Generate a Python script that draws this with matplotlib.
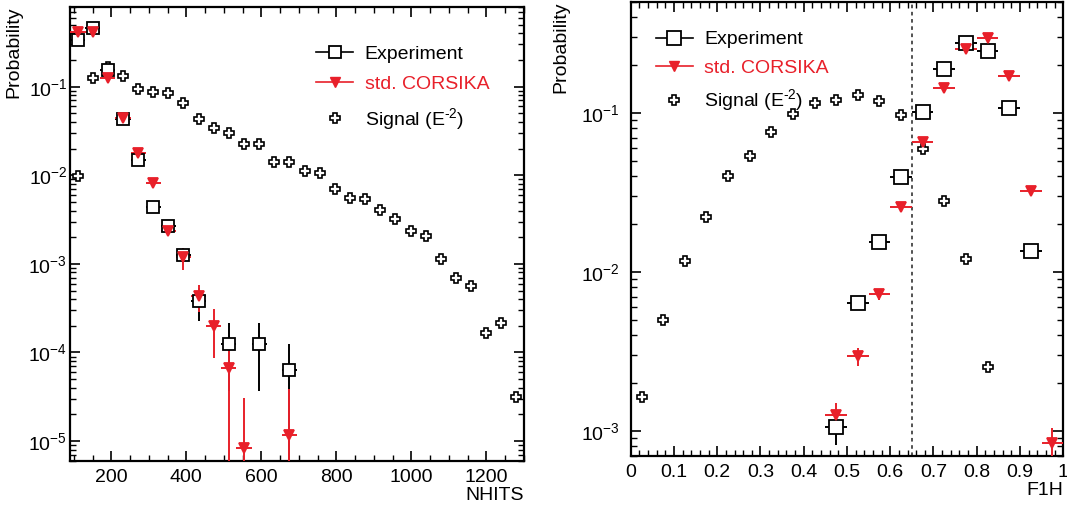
import matplotlib
matplotlib.use("Agg")
import matplotlib.pyplot as plt
import numpy as np
from matplotlib.lines import Line2D
from matplotlib.ticker import MultipleLocator, LogLocator, FuncFormatter, NullFormatter

plt.rcParams['font.family'] = ['Liberation Sans', 'DejaVu Sans']
plt.rcParams['mathtext.fontset'] = 'custom'
plt.rcParams['mathtext.rm'] = 'Liberation Sans'
plt.rcParams['mathtext.it'] = 'Liberation Sans:italic'
plt.rcParams['mathtext.bf'] = 'Liberation Sans:bold'
plt.rcParams['axes.unicode_minus'] = False

RED = '#e8202a'

# ---- NHITS distribution (30 bins, 90..1300) ----
nhits_edges = np.linspace(90, 1300, 31)

nhits_exp_bins = [0, 1, 2, 3, 4, 5, 6, 7, 8, 10, 12, 14]
nhits_exp = [0.336, 0.456, 0.154, 0.0428, 0.0149, 0.00438, 0.0027, 0.00127, 3.8e-4, 1.25e-4, 1.25e-4, 6.3e-5]
nhits_exp_lo = [0.330, 0.450, 0.151, 0.0420, 0.0145, 0.0042, 0.0025, 0.00105, 2.25e-4, 3.7e-5, 3.7e-5, 0]
nhits_exp_hi = [0.342, 0.462, 0.157, 0.0436, 0.0153, 0.0046, 0.0029, 0.0015, 5.4e-4, 2.14e-4, 2.14e-4, 1.24e-4]

nhits_cor_bins = [0, 1, 2, 3, 4, 5, 6, 7, 8, 9, 10, 11, 14]
nhits_cor = [0.418, 0.41, 0.124, 0.044, 0.018, 0.0081, 0.00237, 0.0012, 4.3e-4, 2.0e-4, 6.7e-5, 8.3e-6, 1.17e-5]
nhits_cor_lo = [0.412, 0.404, 0.121, 0.0428, 0.0174, 0.0077, 0.0021, 8.6e-4, 2.9e-4, 8.6e-5, 0, 0, 0]
nhits_cor_hi = [0.424, 0.416, 0.127, 0.0452, 0.0186, 0.0085, 0.0027, 1.5e-3, 5.8e-4, 3.1e-4, 1.27e-4, 3.05e-5, 3.9e-5]

nhits_sig = [0.0097, 0.126, 0.168, 0.132, 0.0935, 0.0865, 0.0842, 0.066, 0.0428, 0.0344,
             0.0298, 0.0225, 0.0224, 0.0140, 0.0140, 0.0113, 0.0105, 0.00695, 0.0055, 0.0054,
             0.0041, 0.0032, 0.00235, 0.00207, 0.00114, 6.9e-4, 5.67e-4, 1.64e-4, 2.13e-4, 3.17e-5]

# ---- F1H distribution (20 bins, 0..1) ----
f1h_edges = np.linspace(0, 1, 21)
f1h_cut = 0.65

f1h_sig = [1.63e-3, 5.0e-3, 0.0118, 0.0222, 0.0403, 0.0535, 0.0753, 0.099, 0.116, 0.121,
           0.130, 0.119, 0.0967, 0.0591, 0.0281, 0.0120, 2.52e-3]

f1h_exp_bins = [9, 10, 11, 12, 13, 14, 15, 16, 17, 18]
f1h_exp = [1.06e-3, 6.4e-3, 0.01535, 0.0393, 0.1015, 0.188, 0.275, 0.245, 0.1066, 0.0136]
f1h_exp_lo = [8.2e-4, 5.95e-3, 0.0148, 0.0386, 0.1002, 0.1862, 0.2725, 0.2425, 0.1052, 0.0132]
f1h_exp_hi = [1.3e-3, 6.9e-3, 0.0159, 0.0400, 0.1028, 0.1898, 0.2775, 0.2475, 0.1080, 0.0140]

f1h_cor_bins = [9, 10, 11, 12, 13, 14, 15, 16, 17, 18, 19]
f1h_cor = [1.26e-3, 2.98e-3, 7.24e-3, 0.0255, 0.0658, 0.144, 0.253, 0.297, 0.170, 0.0323, 8.4e-4]
f1h_cor_lo = [1.0e-3, 2.55e-3, 6.7e-3, 0.0248, 0.0645, 0.1415, 0.249, 0.293, 0.167, 0.0312, 0]
f1h_cor_hi = [1.51e-3, 3.32e-3, 7.8e-3, 0.0262, 0.0671, 0.1465, 0.257, 0.301, 0.173, 0.0334, 1.04e-3]


def draw_points(ax, edges, bins, vals, lo, hi, color, marker, ms, mfc, lw):
    centers = 0.5 * (edges[:-1] + edges[1:])
    half = 0.5 * (edges[1] - edges[0])
    x = centers[bins]
    y = np.asarray(vals)
    yerr = [y - np.asarray(lo), np.asarray(hi) - y]
    ax.errorbar(x, y, xerr=half, yerr=yerr, fmt=marker, color=color, ms=ms, mfc=mfc,
                mec=color, mew=1.3, elinewidth=lw, capsize=0, zorder=3)


def draw_signal(ax, edges, vals, ms):
    centers = 0.5 * (edges[:-1] + edges[1:])
    ax.plot(centers[:len(vals)], vals, 'P', ms=ms, mfc='white', mec='black', mew=1.2,
            ls='none', zorder=2)


def style_axes(ax, pad):
    ax.set_yscale('log', nonpositive='clip')
    ax.tick_params(which='both', direction='in', top=True, right=True, labelsize=14)
    ax.tick_params(which='major', length=7, width=1.2)
    ax.tick_params(which='minor', length=4, width=1.0)
    ax.tick_params(axis='x', which='major', pad=6)
    ax.tick_params(axis='y', which='major', pad=pad)
    ax.yaxis.set_major_locator(LogLocator(base=10, numticks=10))
    ax.yaxis.set_minor_locator(LogLocator(base=10, subs=np.arange(2, 10), numticks=10))
    ax.yaxis.set_minor_formatter(NullFormatter())
    for s in ax.spines.values():
        s.set_linewidth(1.6)


def add_legend(ax, anchor, sq_ms, spacing):
    handles = [
        Line2D([], [], color='black', marker='s', ms=sq_ms, mfc='white', mew=1.3, lw=1.2),
        Line2D([], [], color=RED, marker='v', ms=7, lw=1.2),
        Line2D([], [], color='black', marker='P', ms=7, mfc='white', mew=1.2, ls='none'),
    ]
    labels = ['Experiment', 'std. CORSIKA', r'Signal (E$^{\text{-}2}$)']
    leg = ax.legend(handles, labels, loc='upper left', bbox_to_anchor=anchor, frameon=False,
                    fontsize=14, labelspacing=spacing, handlelength=1.9, handletextpad=0.6,
                    borderaxespad=0)
    leg.get_texts()[1].set_color(RED)


fig = plt.figure(figsize=(10.67, 5.08), dpi=100)

# NHITS panel
ax1 = fig.add_axes([0.0656, 0.0931, 0.4255, 0.8937])
draw_signal(ax1, nhits_edges, nhits_sig, ms=6.5)
draw_points(ax1, nhits_edges, nhits_exp_bins, nhits_exp, nhits_exp_lo, nhits_exp_hi,
            'black', 's', 8, 'white', 1.4)
draw_points(ax1, nhits_edges, nhits_cor_bins, nhits_cor, nhits_cor_lo, nhits_cor_hi,
            RED, 'v', 6.5, RED, 1.4)
style_axes(ax1, pad=2)
ax1.set_xlim(90, 1300)
ax1.set_ylim(6e-6, 0.8)
ax1.xaxis.set_major_locator(MultipleLocator(200))
ax1.xaxis.set_minor_locator(MultipleLocator(50))
ax1.set_xlabel('NHITS', loc='right', fontsize=14, labelpad=1)
ax1.set_ylabel('Probability', loc='top', fontsize=14, labelpad=4)
add_legend(ax1, (0.525, 0.932), 8, 0.65)

# F1H panel
ax2 = fig.add_axes([0.5911, 0.1030, 0.4054, 0.8937])
draw_signal(ax2, f1h_edges, f1h_sig, ms=7.5)
draw_points(ax2, f1h_edges, f1h_exp_bins, f1h_exp, f1h_exp_lo, f1h_exp_hi,
            'black', 's', 10.5, 'white', 1.4)
draw_points(ax2, f1h_edges, f1h_cor_bins, f1h_cor, f1h_cor_lo, f1h_cor_hi,
            RED, 'v', 7, RED, 1.4)
ax2.axvline(f1h_cut, color='#444444', ls=(0, (2, 2)), lw=1.3, zorder=1)
style_axes(ax2, pad=8)
ax2.set_xlim(0, 1)
ax2.set_ylim(7e-4, 0.5)
ax2.xaxis.set_major_locator(MultipleLocator(0.1))
ax2.xaxis.set_minor_locator(MultipleLocator(0.02))
ax2.xaxis.set_major_formatter(FuncFormatter(lambda v, p: '%g' % round(v, 2)))
ax2.set_xlabel('F1H', loc='right', fontsize=14, labelpad=1)
ax2.set_ylabel('Probability', loc='top', fontsize=14, labelpad=8)
add_legend(ax2, (0.04, 0.953), 10, 0.55)

fig.savefig('out.png', dpi=100)
